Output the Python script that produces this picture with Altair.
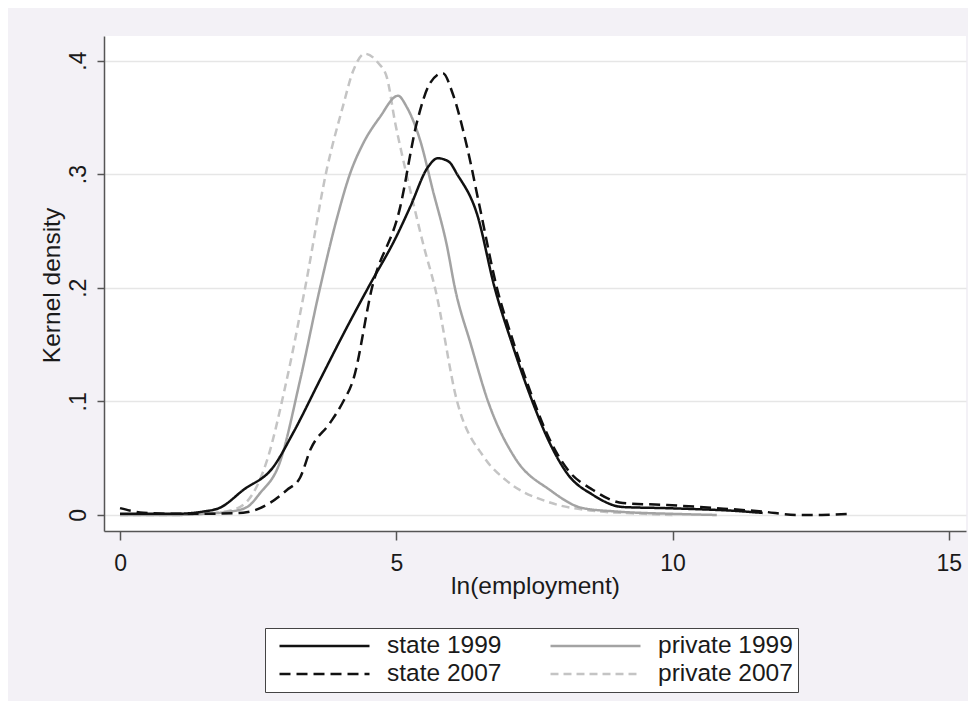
import altair as alt
import pandas as pd

# legend is filled column by column, so this order gives rows
# "state 1999 | private 1999" and "state 2007 | private 2007"
series = ["state 1999", "state 2007", "private 1999", "private 2007"]

state_1999_x = [0.0, 0.5, 1.0, 1.5, 1.81, 2.23, 2.77, 3.13, 3.62, 4.05, 4.49, 5.0, 5.25, 5.57, 5.75, 5.95, 6.10, 6.46, 6.78, 7.1, 7.4, 7.78, 8.1, 8.56, 9.1, 9.9, 10.5, 11.0, 11.63]
state_1999_y = [0.001, 0.001, 0.001, 0.003, 0.0064, 0.022, 0.042, 0.072, 0.119, 0.16, 0.2, 0.245, 0.271, 0.306, 0.314, 0.311, 0.300, 0.265, 0.2, 0.15, 0.108, 0.063, 0.036, 0.0176, 0.007, 0.006, 0.005, 0.004, 0.0018]

state_2007_x = [0.0, 0.42, 1.0, 1.5, 2.23, 2.71, 3.02, 3.26, 3.45, 3.80, 4.03, 4.22, 4.56, 5.07, 5.37, 5.61, 5.84, 6.02, 6.28, 6.51, 6.82, 7.1, 7.4, 7.78, 8.1, 8.56, 9.1, 9.9, 10.8, 11.63, 12.25, 12.7, 13.2]
state_2007_y = [0.006, 0.002, 0.001, 0.001, 0.002, 0.0105, 0.022, 0.033, 0.058, 0.081, 0.099, 0.119, 0.2, 0.271, 0.345, 0.38, 0.389, 0.371, 0.324, 0.271, 0.2, 0.155, 0.112, 0.066, 0.04, 0.022, 0.0105, 0.0088, 0.006, 0.003, 0.0, 0.0, 0.001]

private_1999_x = [0.0, 1.0, 1.5, 2.0, 2.30, 2.53, 2.89, 3.26, 3.62, 3.93, 4.16, 4.40, 4.70, 5.03, 5.19, 5.43, 5.66, 5.92, 6.06, 6.35, 6.66, 7.15, 7.78, 8.38, 9.0, 10.0, 10.8]
private_1999_y = [0.0, 0.0, 0.001, 0.003, 0.007, 0.019, 0.046, 0.119, 0.2, 0.262, 0.30, 0.327, 0.35, 0.369, 0.359, 0.33, 0.286, 0.236, 0.2, 0.15, 0.1, 0.05, 0.022, 0.006, 0.003, 0.001, 0.0]

private_2007_x = [0.0, 1.0, 1.5, 2.0, 2.3, 2.66, 2.99, 3.35, 3.75, 4.03, 4.22, 4.43, 4.67, 4.83, 4.98, 5.1, 5.3, 5.5, 5.70, 6.1, 6.6, 7.0, 7.78, 8.5, 9.5, 10.0]
private_2007_y = [0.0, 0.0, 0.001, 0.004, 0.012, 0.048, 0.113, 0.2, 0.306, 0.359, 0.391, 0.406, 0.398, 0.385, 0.345, 0.318, 0.276, 0.236, 0.2, 0.1, 0.05, 0.03, 0.011, 0.004, 0.001, 0.0]

y_ticks = [0, 0.1, 0.2, 0.3, 0.4]
x_ticks = [0, 5, 10, 15]

rows = []
for name, xs, ys in [
    ("private 2007", private_2007_x, private_2007_y),
    ("private 1999", private_1999_x, private_1999_y),
    ("state 2007", state_2007_x, state_2007_y),
    ("state 1999", state_1999_x, state_1999_y),
]:
    for i, (xv, yv) in enumerate(zip(xs, ys)):
        rows.append({"series": name, "x": xv, "y": yv, "order": i})
df = pd.DataFrame(rows)

font = "Liberation Sans"
txt = "#1a1a1a"

color_scale = alt.Scale(domain=series, range=["#111111", "#111111", "#a3a3a3", "#c4c4c4"])
dash_scale = alt.Scale(domain=series, range=[[1, 0], [11, 6], [1, 0], [8, 5]])
width_scale = alt.Scale(domain=series, range=[2.5, 2.5, 2.0, 2.0])

legend = alt.Legend(
    title=None, orient="none", legendX=161, legendY=592, columns=2,
    symbolType="stroke", symbolSize=8100, clipHeight=26, rowPadding=2,
    columnPadding=39, padding=5, symbolOffset=8, labelOffset=16,
    labelFont=font, labelFontSize=24.5, labelColor=txt, labelLimit=400,
    fillColor="white", strokeColor="#444444",
)

chart = alt.Chart(df).mark_line(interpolate="monotone").encode(
    x=alt.X("x:Q",
            scale=alt.Scale(domain=[-0.29, 15.31], nice=False, zero=False),
            axis=alt.Axis(values=x_ticks, format="d", grid=False, title="ln(employment)",
                          tickSize=9, labelPadding=30, labelBaseline="alphabetic",
                          titleBaseline="alphabetic", titleY=62)),
    y=alt.Y("y:Q",
            scale=alt.Scale(domain=[-0.0141, 0.4216], nice=False, zero=False),
            axis=alt.Axis(values=y_ticks, grid=True, title="Kernel density",
                          labelExpr="datum.value == 0 ? '0' : replace(format(datum.value, '.1f'), '0.', '.')",
                          labelAngle=-90, labelAlign="center", labelBaseline="alphabetic",
                          tickSize=7, labelPadding=12,
                          titleBaseline="alphabetic", titleX=-45, titleY=249)),
    color=alt.Color("series:N", scale=color_scale, sort=series, legend=legend),
    strokeDash=alt.StrokeDash("series:N", scale=dash_scale, sort=series),
    strokeWidth=alt.StrokeWidth("series:N", scale=width_scale, sort=series),
    order="order:Q",
).properties(
    width=862, height=495,
    padding={"left": 96, "top": 28, "right": 2, "bottom": 170},
    autosize=alt.AutoSizeParams(type="none"),
).configure(
    background="#f3f1f6",
).configure_view(
    fill="white", strokeWidth=0,
).configure_axis(
    labelFont=font, labelFontSize=23, labelColor=txt,
    titleFont=font, titleFontSize=24.5, titleColor=txt, titleFontWeight="normal",
    domainColor="#555555", domainWidth=1.5, tickColor="#555555", tickWidth=1.5,
    gridColor="#e6e6e6", gridWidth=1.5,
)

chart.save("out.html", embed_options={"renderer": "svg", "actions": False})
